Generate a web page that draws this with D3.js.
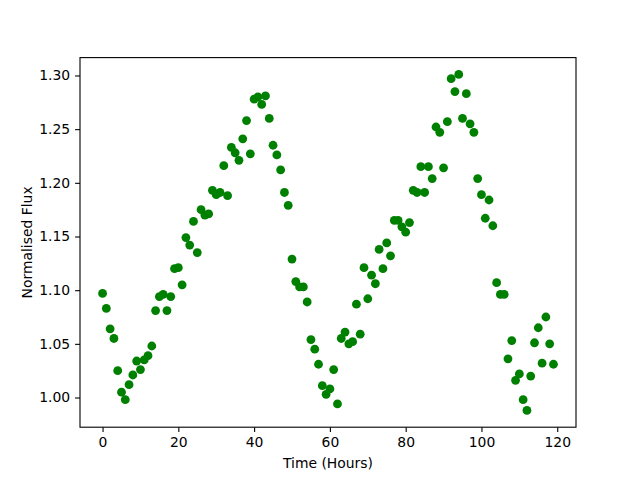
<!DOCTYPE html>
<html>
<head>
<meta charset="utf-8">
<script src="https://cdn.jsdelivr.net/npm/d3@7"></script>
<style>
  body { margin: 0; background: #fff; }
  svg text { font-family: "DejaVu Sans", sans-serif; }
</style>
</head>
<body>
<div id="chart"></div>
<script>
// hours 0..119, one sample per hour
var flux = [
  1.097, 1.083, 1.064, 1.055, 1.025, 1.005, 0.998, 1.012, 1.021, 1.034,
  1.026, 1.035, 1.039, 1.048, 1.081, 1.094, 1.096, 1.081, 1.094, 1.120,
  1.121, 1.105, 1.149, 1.142, 1.164, 1.135, 1.175, 1.170, 1.171, 1.193,
  1.189, 1.191, 1.216, 1.188, 1.233, 1.228, 1.221, 1.241, 1.258, 1.227,
  1.278, 1.280, 1.273, 1.281, 1.260, 1.235, 1.226, 1.212, 1.191, 1.179,
  1.129, 1.108, 1.103, 1.103, 1.089, 1.054, 1.045, 1.031, 1.011, 1.003,
  1.008, 1.026, 0.994, 1.055, 1.061, 1.050, 1.052, 1.087, 1.059, 1.121,
  1.092, 1.114, 1.106, 1.138, 1.120, 1.144, 1.132, 1.165, 1.165, 1.159,
  1.154, 1.163, 1.193, 1.191, 1.215, 1.191, 1.215, 1.204, 1.252, 1.247,
  1.214, 1.257, 1.297, 1.285, 1.301, 1.260, 1.283, 1.255, 1.247, 1.204,
  1.189, 1.167, 1.184, 1.160, 1.107, 1.096, 1.096, 1.036, 1.053, 1.016,
  1.022, 0.998, 0.988, 1.020, 1.051, 1.065, 1.032, 1.075, 1.050, 1.031
];
var hours = d3.range(flux.length);
var xTicks = [0, 20, 40, 60, 80, 100, 120];
var yTicks = [1.00, 1.05, 1.10, 1.15, 1.20, 1.25, 1.30];

var W = 640, H = 480;
var margin = {top: 57.6, right: 64, bottom: 52.8, left: 80},
    width = W - margin.left - margin.right,
    height = H - margin.top - margin.bottom;

var svg = d3.select("#chart").append("svg")
    .attr("width", W)
    .attr("height", H)
  .append("g")
    .attr("transform", "translate(" + margin.left + "," + margin.top + ")");

// matplotlib style 5% padding
function padded(ext) {
  var p = (ext[1] - ext[0]) * 0.05;
  return [ext[0] - p, ext[1] + p];
}

var xScale = d3.scaleLinear()
    .domain(padded(d3.extent(hours)))
    .range([0, width]);

var yScale = d3.scaleLinear()
    .domain(padded(d3.extent(flux)))
    .range([height, 0]);

svg.selectAll(".dot")
    .data(hours)
  .enter().append("circle")
    .attr("class", "dot")
    .attr("cx", function(d) { return xScale(d); })
    .attr("cy", function(d) { return yScale(flux[d]); })
    .attr("r", 4.4)
    .style("fill", "#008000");

var xAxis = svg.append("g")
    .attr("transform", "translate(0," + height + ")")
    .call(d3.axisBottom(xScale).tickValues(xTicks).tickSize(4.9).tickPadding(4.9)
      .tickFormat(d3.format("d")));

var yAxis = svg.append("g")
    .call(d3.axisLeft(yScale).tickValues(yTicks).tickSize(4.9).tickPadding(4.9)
      .tickFormat(d3.format(".2f")));

[xAxis, yAxis].forEach(function(a) {
  a.select(".domain").remove();
  a.selectAll("line").attr("stroke", "#000").attr("stroke-width", 1.1);
  a.selectAll("text").attr("fill", "#000").style("font-size", "13.9px");
});

// frame
svg.append("rect")
    .attr("width", width)
    .attr("height", height)
    .attr("fill", "none")
    .attr("stroke", "#000")
    .attr("stroke-width", 1.1);

svg.append("text")
    .attr("x", width / 2)
    .attr("y", height + 41)
    .attr("text-anchor", "middle")
    .style("font-size", "13.9px")
    .text("Time (Hours)");

svg.append("text")
    .attr("transform", "translate(" + (-48) + "," + (height / 2) + ") rotate(-90)")
    .attr("text-anchor", "middle")
    .style("font-size", "13.9px")
    .text("Normalised Flux");
</script>
</body>
</html>
